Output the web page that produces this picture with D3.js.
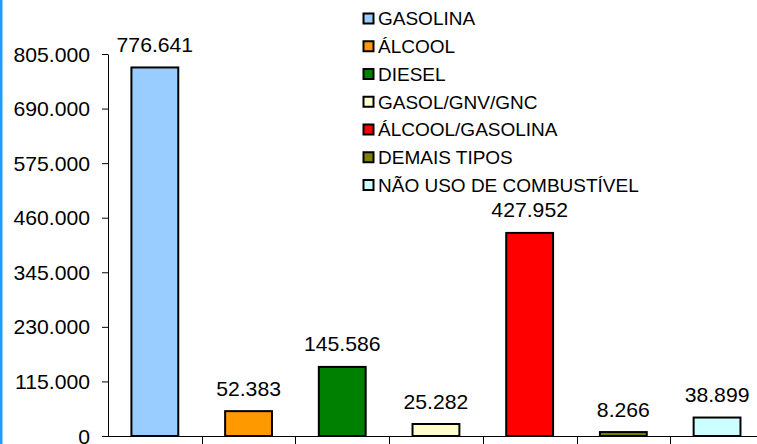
<!DOCTYPE html>
<html>
<head>
<meta charset="utf-8">
<script src="https://cdn.jsdelivr.net/npm/d3@7"></script>
<style>
  html, body { margin: 0; padding: 0; background: #fff; }
  svg { display: block; }
  text { font-family: "Liberation Sans", Arial, sans-serif; fill: #000; }
</style>
</head>
<body>
<svg id="chart" width="757" height="444"></svg>
<script>
const categories = ["GASOLINA", "ÁLCOOL", "DIESEL", "GASOL/GNV/GNC", "ÁLCOOL/GASOLINA", "DEMAIS TIPOS", "NÃO USO DE COMBUSTÍVEL"];
const values = [776641, 52383, 145586, 25282, 427952, 8266, 38899];
const colors = ["#99CCFF", "#FF9900", "#008000", "#FFFFCC", "#FF0000", "#808000", "#CCFFFF"];
const yTicks = [0, 115000, 230000, 345000, 460000, 575000, 690000, 805000];

const W = 757, H = 444;
const mLeft = 108, mTop = 54, mBottom = 436;
const step = 93.7;
const stretch = 1.06;
const fs = 20;
const legendFs = 19;

const svg = d3.select("#chart");
svg.append("rect").attr("x", 0).attr("y", 0).attr("width", 2.5).attr("height", H).attr("fill", "#1E9BFF");

const x = d3.scaleBand().domain(categories)
  .range([mLeft, mLeft + step * categories.length])
  .paddingInner(0.5).paddingOuter(0.25);
const y = d3.scaleLinear().domain([0, 805000]).range([mBottom, mTop]);

const fmt = v => d3.format(",")(v).replace(/,/g, ".");

// Y axis
const yAxis = svg.append("g").attr("transform", `translate(${mLeft},0)`)
  .call(d3.axisLeft(y).tickValues(yTicks).tickSize(6).tickSizeOuter(0).tickFormat(fmt));
yAxis.select(".domain").attr("stroke", "#000").attr("stroke-width", 1);
yAxis.selectAll(".tick line").attr("stroke", "#000");
yAxis.selectAll(".tick text")
  .attr("x", null).attr("dy", "0.35em")
  .attr("transform", `translate(-18,0) scale(${stretch},1)`)
  .style("font-size", fs + "px").style("font-family", '"Liberation Sans", Arial, sans-serif')
  .attr("fill", "#000");

// X axis line and separators
svg.append("line").attr("x1", mLeft).attr("x2", W).attr("y1", mBottom + 0.5).attr("y2", mBottom + 0.5)
  .attr("stroke", "#000");
const bounds = d3.range(1, categories.length).map(i => x(categories[i]) - (x.step() - x.bandwidth()) / 2);
svg.selectAll("line.sep").data(bounds).join("line").attr("class", "sep")
  .attr("x1", d => Math.round(d) + 0.5).attr("x2", d => Math.round(d) + 0.5)
  .attr("y1", mBottom).attr("y2", mBottom + 8).attr("stroke", "#000");

// Bars
svg.selectAll("rect.bar").data(categories).join("rect").attr("class", "bar")
  .attr("x", d => x(d))
  .attr("y", (d, i) => y(values[i]))
  .attr("width", x.bandwidth())
  .attr("height", (d, i) => mBottom - y(values[i]))
  .attr("fill", (d, i) => colors[i])
  .attr("stroke", "#000").attr("stroke-width", 2);

// Value labels
svg.selectAll("g.lab").data(categories).join("g").attr("class", "lab")
  .attr("transform", (d, i) => `translate(${x(d) + x.bandwidth() / 2},${y(values[i]) - 15.5}) scale(${stretch},1)`)
  .append("text").attr("text-anchor", "middle").style("font-size", fs + "px")
  .text((d, i) => fmt(values[i]));

// Legend
const lg = svg.append("g").attr("transform", "translate(363,18.5)");
const rowH = 27.75;
const items = lg.selectAll("g").data(categories).join("g")
  .attr("transform", (d, i) => `translate(0,${i * rowH})`);
items.append("rect").attr("x", 0.5).attr("y", -5).attr("width", 10).attr("height", 10)
  .attr("fill", (d, i) => colors[i]).attr("stroke", "#000").attr("stroke-width", 2);
items.append("text").attr("x", 15).attr("dy", "0.36em").style("font-size", legendFs + "px").text(d => d);
</script>
</body>
</html>
